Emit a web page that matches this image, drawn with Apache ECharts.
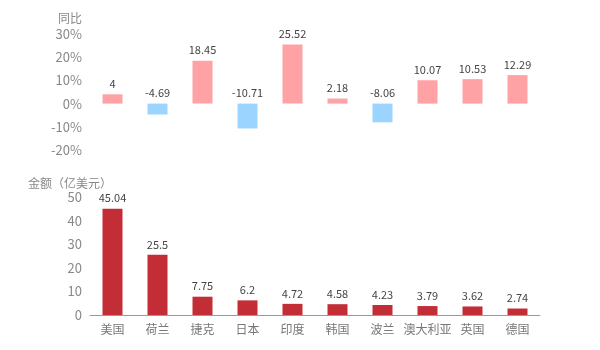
<!DOCTYPE html>
<html>
<head>
<meta charset="utf-8">
<script src="https://cdn.jsdelivr.net/npm/echarts@6/dist/echarts.min.js"></script>
<style>
  html, body { margin: 0; padding: 0; background: #fff; }
  #main { width: 600px; height: 350px; }
</style>
</head>
<body>
<div id="main"></div>
<script>
var countries = ['美国', '荷兰', '捷克', '日本', '印度', '韩国', '波兰', '澳大利亚', '英国', '德国'];
var yoy = [4, -4.69, 18.45, -10.71, 25.52, 2.18, -8.06, 10.07, 10.53, 12.29];
var amount = [45.04, 25.5, 7.75, 6.2, 4.72, 4.58, 4.23, 3.79, 3.62, 2.74];

var font = '"Noto Sans CJK SC", "Microsoft YaHei", sans-serif';
var chart = echarts.init(document.getElementById('main'));

chart.setOption({
  textStyle: { fontFamily: font },
  animation: false,
  grid: [
    { left: 90, right: 60, top: 34, height: 116 },
    { left: 90, right: 60, top: 197, height: 118 }
  ],
  xAxis: [
    {
      type: 'category', gridIndex: 0, data: countries,
      show: false
    },
    {
      type: 'category', gridIndex: 1, data: countries,
      axisLine: { lineStyle: { color: '#999' } },
      axisTick: { alignWithLabel: true, lineStyle: { color: '#999' } },
      axisLabel: { color: '#777', fontSize: 12, interval: 0, fontFamily: font }
    }
  ],
  yAxis: [
    {
      type: 'value', gridIndex: 0, min: -20, max: 30, interval: 10,
      name: '同比', nameGap: 10,
      nameTextStyle: { color: '#888', fontSize: 12, fontFamily: font, align: 'right', padding: [0, 8, 0, 0] },
      axisLine: { show: false }, axisTick: { show: false }, splitLine: { show: false },
      axisLabel: { color: '#888', fontSize: 13, formatter: '{value}%', fontFamily: font }
    },
    {
      type: 'value', gridIndex: 1, min: 0, max: 50, interval: 10,
      name: '金额（亿美元）', nameGap: 8,
      nameTextStyle: { color: '#888', fontSize: 12, fontFamily: font, align: 'right', padding: [0, -22, 0, 0] },
      axisLine: { show: false }, axisTick: { show: false }, splitLine: { show: false },
      axisLabel: { color: '#888', fontSize: 13, fontFamily: font }
    }
  ],
  series: [
    {
      type: 'bar', xAxisIndex: 0, yAxisIndex: 0, barWidth: 20,
      data: yoy.map(function (v) {
        return { value: v, itemStyle: { color: v >= 0 ? '#ffa2a6' : '#9ad4ff' } };
      }),
      label: { show: true, position: 'top', color: '#444', fontSize: 11, fontFamily: font }
    },
    {
      type: 'bar', xAxisIndex: 1, yAxisIndex: 1, barWidth: 20,
      data: amount,
      itemStyle: { color: '#c22d36' },
      label: { show: true, position: 'top', color: '#444', fontSize: 11, fontFamily: font }
    }
  ]
});
</script>
</body>
</html>
